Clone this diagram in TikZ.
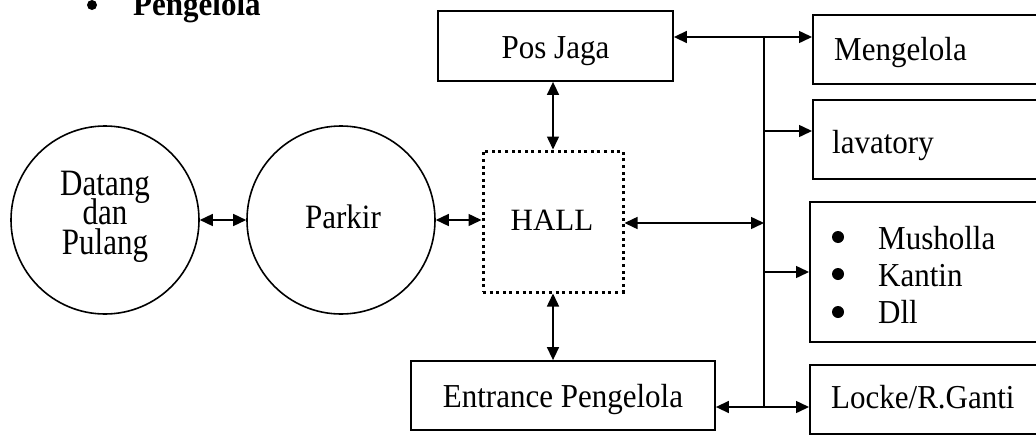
\documentclass[tikz,border=0pt]{standalone}
\usepackage{fontspec}
\usepackage{graphicx}
\setmainfont{Liberation Serif}
\usetikzlibrary{arrows.meta}
% letters in this sheet are set slightly taller than wide
\newcommand\tallset[2][1.08]{\scalebox{1}[#1]{#2}}
\begin{document}
\begin{tikzpicture}[x=1pt,y=-1pt,
  txt/.style={inner sep=0pt, font=\fontsize{31}{24.6}\selectfont},
  tip/.tip={Triangle[length=13pt,width=12pt]},
  link/.style={line width=1.5pt, tip-tip},
  feed/.style={line width=1.5pt, -tip},
  bus/.style={line width=1.5pt},
  box/.style={draw, line width=1.8pt, rectangle, inner sep=0pt},
  place/.style={draw, circle, line width=1.6pt, minimum size=188pt, inner sep=0pt},
  hallbox/.style={draw, line width=3pt, dash pattern=on 3pt off 3.6pt, rectangle,
                  minimum width=140pt, minimum height=141pt, inner sep=0pt},
  dot/.style={circle, fill, inner sep=0pt, minimum size=#1}]
\useasboundingbox (0,0) rectangle (1036,434);

% heading
\node[dot=10pt] (headdot) at (92,5) {};
\node[txt, anchor=base west, font=\bfseries\fontsize{31}{24}\selectfont] (head) at (133,15) {\tallset{Pengelola}};

% arrival and parking
\node[place] (datang) at (105,220) {};
\node[txt, anchor=base] (datangtxt) at (105,195)
  {\tallset[1.2]{\begin{tabular}[t]{@{}c@{}}\smash{Datang}\\\smash{dan}\\\smash{Pulang}\end{tabular}}};
\node[place] (parkir) at (341,220) {};
\node[txt, anchor=base] (parkirtxt) at (343,228) {\tallset[1.1]{Parkir}};

% hall and the rooms around it
\node[hallbox] (hall) at (553,221.5) {};
\node[txt, anchor=base] (halltxt) at (552,230) {HALL};
\node[box, minimum width=235pt, minimum height=70pt] (pos) at (555.5,46) {};
\node[txt, anchor=base] (postxt) at (555.5,58) {\tallset{Pos Jaga}};
\node[box, minimum width=304pt, minimum height=69pt] (ent) at (563,395.5) {};
\node[txt, anchor=base] (enttxt) at (563,407) {\tallset{Entrance Pengelola}};

% rooms on the right
\node[box, anchor=north west, minimum width=234pt, minimum height=69pt] (meng) at (812,14) {};
\node[txt, anchor=base west] (mengtxt) at (834,60) {\tallset{Mengelola}};
\node[box, anchor=north west, minimum width=234pt, minimum height=79pt] (lav) at (812,99) {};
\node[txt, anchor=base west] (lavtxt) at (832,153) {\tallset{lavatory}};
\node[box, anchor=north west, minimum width=237pt, minimum height=140pt] (mus) at (809,201) {};
\node[dot=12pt] (d1) at (838,237) {};
\node[dot=12pt] (d2) at (838,274) {};
\node[dot=12pt] (d3) at (838,312) {};
\node[txt, anchor=base west] (m1) at (878,249) {\tallset{Musholla}};
\node[txt, anchor=base west] (m2) at (878,286) {\tallset{Kantin}};
\node[txt, anchor=base west] (m3) at (878,323) {\tallset{Dll}};
\node[box, anchor=north west, minimum width=237pt, minimum height=69pt] (locke) at (809,364) {};
\node[txt, anchor=base west] (locketxt) at (831,408) {\tallset{Locke/R.Ganti}};

% distribution line
\coordinate (jtop) at (764,37);
\coordinate (jlav) at (764,131);
\coordinate (jhall) at (764,223);
\coordinate (jmus) at (764,272);
\coordinate (jbot) at (764,407);
\draw[bus] (jtop) -- (jbot);

% connectors
\draw[link] (datang) -- (parkir);
\draw[link] (parkir.east) -- (parkir.east -| hall.west);
\draw[link] (hall.north |- pos.south) -- (hall.north);
\draw[link] (hall.south) -- (hall.south |- ent.north);
\draw[link] (hall.east |- jhall) -- (jhall);
\draw[link] (pos.east |- jtop) -- (meng.west |- jtop);
\draw[feed] (jlav) -- (lav.west |- jlav);
\draw[feed] (jmus) -- (mus.west |- jmus);
\draw[link] (ent.east |- jbot) -- (locke.west |- jbot);
\end{tikzpicture}
\end{document}
